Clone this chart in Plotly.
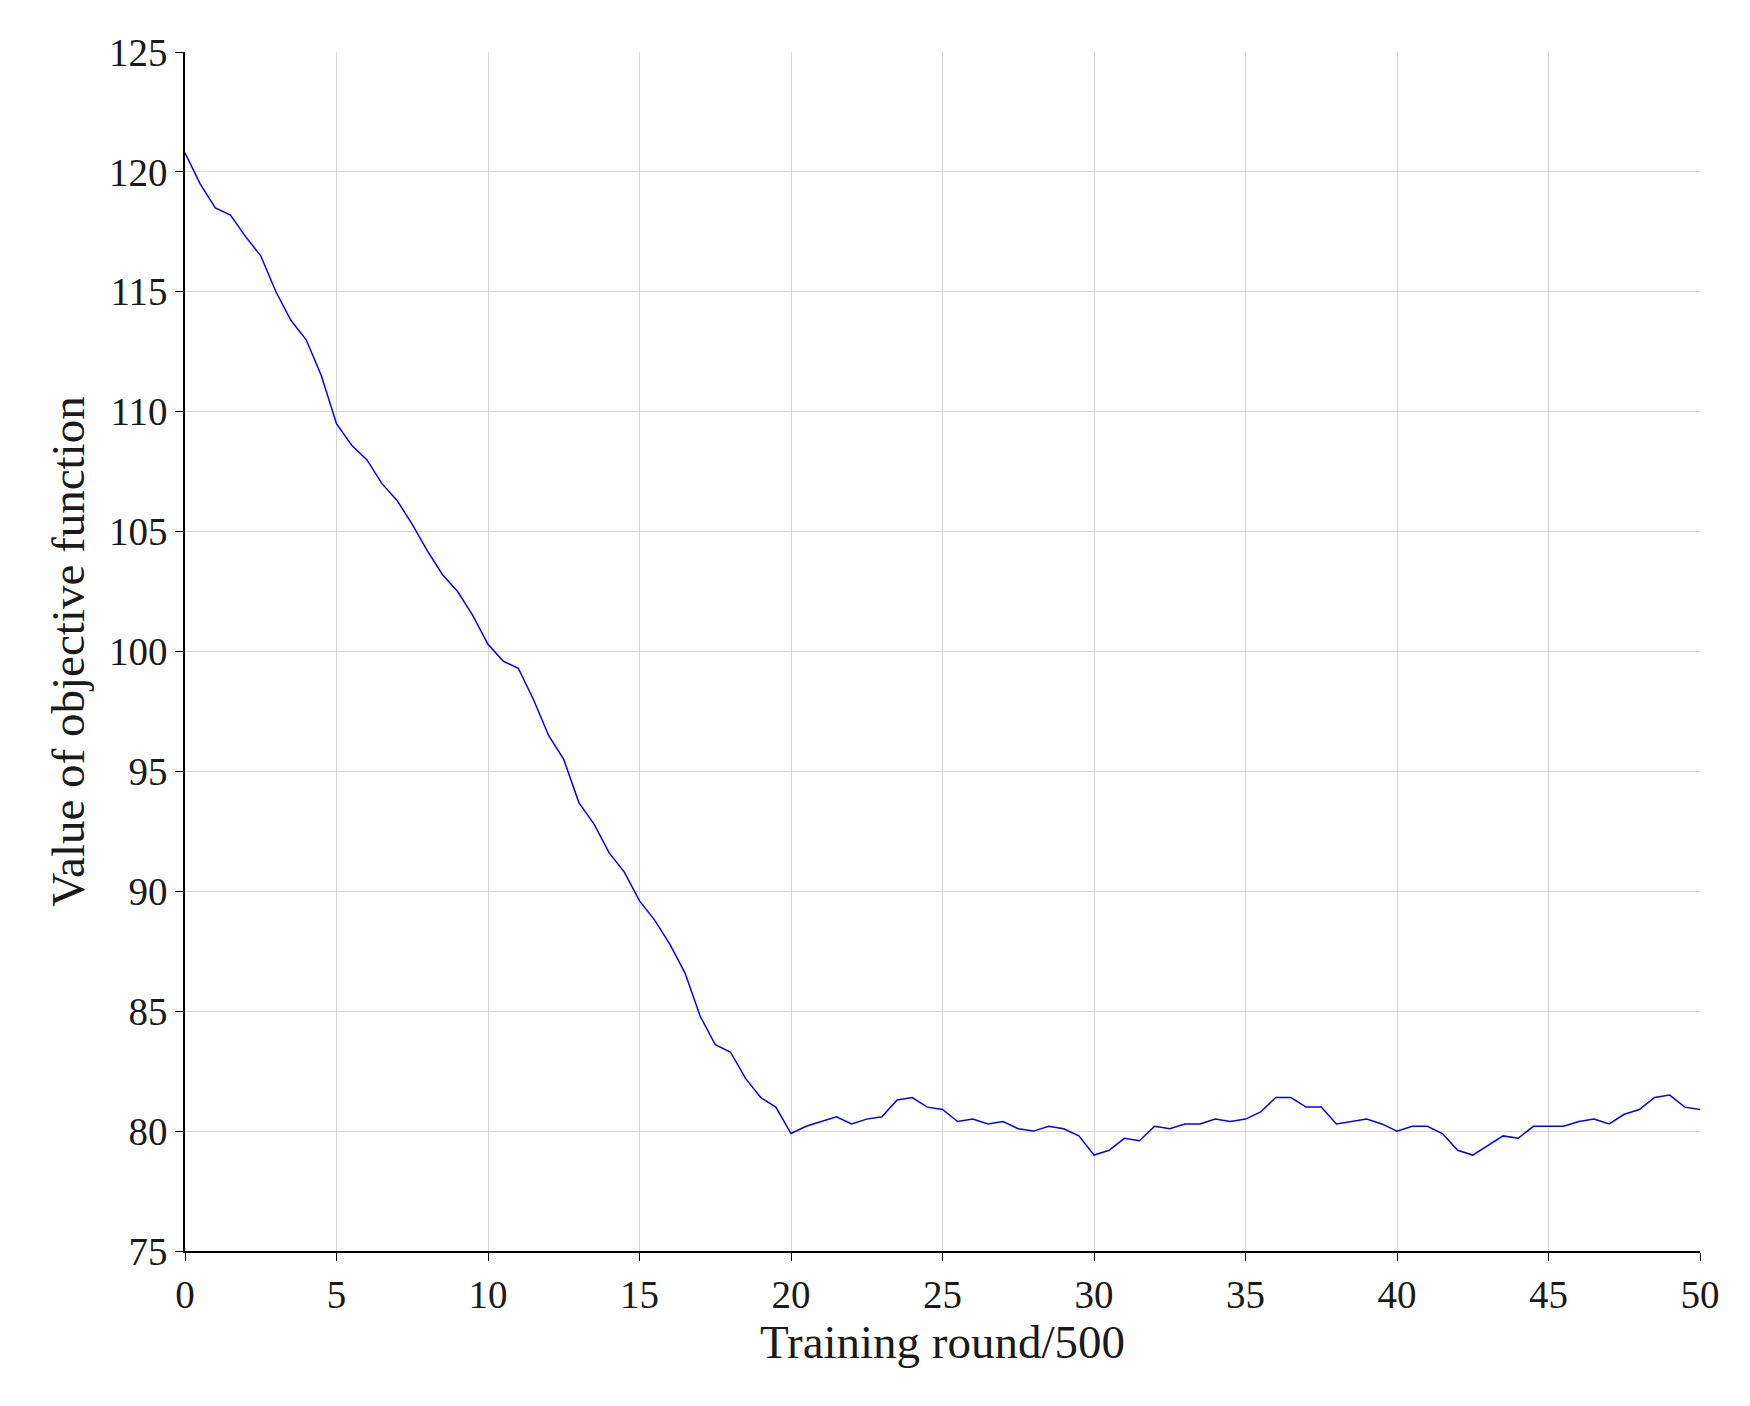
import plotly.graph_objects as go

x_rounds = [i * 0.5 for i in range(101)]
objective = [120.8,119.5,118.5,118.2,117.3,116.5,115.0,113.8,113.0,111.5,
             109.5,108.6,108.0,107.0,106.3,105.3,104.2,103.2,102.5,101.5,
             100.3,99.6,99.3,98.0,96.5,95.5,93.7,92.8,91.6,90.8,
             89.6,88.8,87.8,86.6,84.8,83.6,83.3,82.2,81.4,81.0,
             79.9,80.2,80.4,80.6,80.3,80.5,80.6,81.3,81.4,81.0,
             80.9,80.4,80.5,80.3,80.4,80.1,80.0,80.2,80.1,79.8,
             79.0,79.2,79.7,79.6,80.2,80.1,80.3,80.3,80.5,80.4,
             80.5,80.8,81.4,81.4,81.0,81.0,80.3,80.4,80.5,80.3,
             80.0,80.2,80.2,79.9,79.2,79.0,79.4,79.8,79.7,80.2,
             80.2,80.2,80.4,80.5,80.3,80.7,80.9,81.4,81.5,81.0,80.9]

fig = go.Figure(go.Scatter(x=x_rounds, y=objective, mode="lines",
                           line=dict(color="#0000ff", width=1.5)))
axis_common = dict(showline=True, linecolor="black", linewidth=1.5, mirror=False,
                   ticks="outside", ticklen=8, tickcolor="black",
                   showgrid=True, gridcolor="#d4d4d4", gridwidth=1.2, zeroline=False,
                   tickfont=dict(family="Liberation Serif", size=39, color="#1a1a1a"))
fig.update_xaxes(range=[0, 50], dtick=5, **axis_common,
                 title=dict(text="Training round/500", font=dict(family="Liberation Serif", size=47, color="#1a1a1a"), standoff=8))
fig.update_yaxes(range=[75, 125], dtick=5, **axis_common,
                 title=dict(text="Value of objective function", font=dict(family="Liberation Serif", size=47, color="#1a1a1a"), standoff=10))
fig.update_layout(width=1750, height=1406, plot_bgcolor="white", paper_bgcolor="white",
                  showlegend=False, margin=dict(l=177, r=58, t=44, b=163))
fig.write_html("out.html")
